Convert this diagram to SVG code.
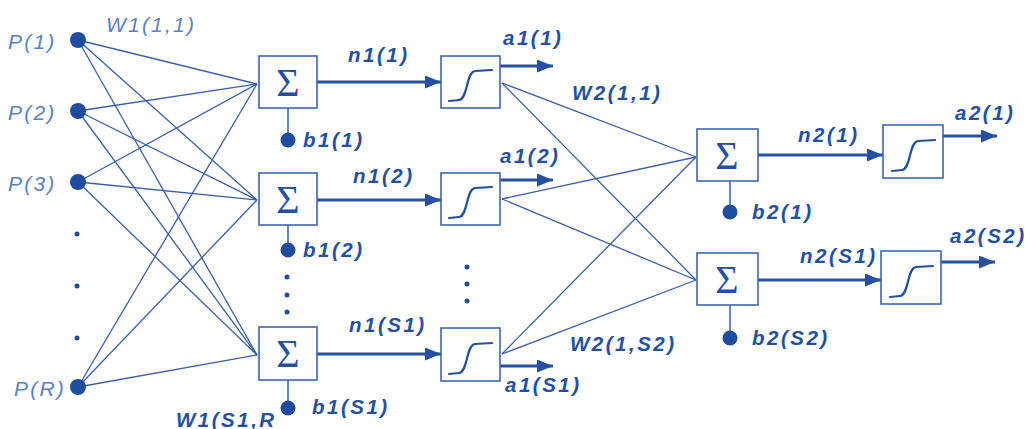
<svg xmlns="http://www.w3.org/2000/svg" width="1027" height="429" viewBox="0 0 1027 429">
<style>
.w{stroke:#3b5ea9;stroke-width:1.3;fill:none}
.ar{stroke:#24509f;stroke-width:3;fill:none}
.box{fill:#fff;stroke:#3e64b0;stroke-width:1.6}
.sig{fill:none;stroke:#24509f;stroke-width:2.2;stroke-linecap:round}
.sum{font-family:"Liberation Serif",serif;font-size:40px;fill:#24509f;text-anchor:middle}
.lb{font-family:"Liberation Sans",Arial,sans-serif;font-size:20.5px;font-weight:bold;font-style:italic;fill:#24509f;letter-spacing:2.5px}
.li{font-family:"Liberation Sans",Arial,sans-serif;font-size:21px;font-style:italic;fill:#5d80c4;letter-spacing:2.2px}
.dot{fill:#1f4c9e}
.bl{stroke:#3e64b0;stroke-width:1.6}
</style>
<defs>
<marker id="ah" markerUnits="userSpaceOnUse" markerWidth="17" markerHeight="13" refX="16" refY="6.5" orient="auto">
<path d="M0,0 L16,6.5 L0,13 Z" fill="#24509f"/>
</marker>
<path id="sc" d="M8,45 L18,44 C27,43 25,16 34,15 L51,14"/>
</defs>
<rect width="1027" height="429" fill="#fff"/>
<g id="connectors">
<line class="w" x1="78" y1="40" x2="257" y2="84"/>
<line class="w" x1="78" y1="40" x2="257" y2="200"/>
<line class="w" x1="78" y1="40" x2="257" y2="355"/>
<line class="w" x1="78" y1="111" x2="257" y2="84"/>
<line class="w" x1="78" y1="111" x2="257" y2="200"/>
<line class="w" x1="78" y1="111" x2="257" y2="355"/>
<line class="w" x1="78" y1="182" x2="257" y2="84"/>
<line class="w" x1="78" y1="182" x2="257" y2="200"/>
<line class="w" x1="78" y1="182" x2="257" y2="355"/>
<line class="w" x1="78" y1="387" x2="257" y2="84"/>
<line class="w" x1="78" y1="387" x2="257" y2="200"/>
<line class="w" x1="78" y1="387" x2="257" y2="355"/>
<line class="w" x1="502" y1="83" x2="696" y2="157"/>
<line class="w" x1="502" y1="83" x2="696" y2="280"/>
<line class="w" x1="502" y1="199" x2="696" y2="157"/>
<line class="w" x1="502" y1="199" x2="696" y2="280"/>
<line class="w" x1="502" y1="354" x2="696" y2="157"/>
<line class="w" x1="502" y1="354" x2="696" y2="280"/>
<line class="ar" x1="317" y1="82" x2="441" y2="82" marker-end="url(#ah)"/>
<line class="ar" x1="317" y1="200" x2="441" y2="200" marker-end="url(#ah)"/>
<line class="ar" x1="317" y1="354" x2="441" y2="354" marker-end="url(#ah)"/>
<line class="ar" x1="500" y1="66" x2="553" y2="66" marker-end="url(#ah)"/>
<line class="ar" x1="500" y1="180" x2="553" y2="180" marker-end="url(#ah)"/>
<line class="ar" x1="500" y1="366" x2="553" y2="366" marker-end="url(#ah)"/>
<line class="ar" x1="758" y1="155" x2="883" y2="155" marker-end="url(#ah)"/>
<line class="ar" x1="758" y1="280" x2="881" y2="280" marker-end="url(#ah)"/>
<line class="ar" x1="943" y1="136" x2="997" y2="136" marker-end="url(#ah)"/>
<line class="ar" x1="941" y1="262" x2="995" y2="262" marker-end="url(#ah)"/>
<line class="bl" x1="288" y1="108" x2="288" y2="140"/>
<line class="bl" x1="288" y1="225" x2="288" y2="250"/>
<line class="bl" x1="288" y1="380" x2="288" y2="408"/>
<line class="bl" x1="730" y1="181" x2="730" y2="212"/>
<line class="bl" x1="730" y1="305" x2="730" y2="338"/>
</g>
<g id="inputs">
<circle class="dot" cx="78" cy="40" r="8"/>
<circle class="dot" cx="78" cy="111" r="8"/>
<circle class="dot" cx="78" cy="182" r="8"/>
<circle class="dot" cx="78" cy="387" r="8"/>
<circle class="dot" cx="77" cy="234" r="2.5"/>
<circle class="dot" cx="77" cy="286" r="2.5"/>
<circle class="dot" cx="77" cy="338" r="2.5"/>
<text class="li" x="8" y="49">P(1)</text>
<text class="li" x="8" y="120">P(2)</text>
<text class="li" x="8" y="191">P(3)</text>
<text class="li" x="14" y="396">P(R)</text>
<text class="li" x="106" y="32">W1(1,1)</text>
</g>
<g id="sum1_1">
<rect class="box" x="259" y="56" width="58" height="52"/>
<text class="sum" x="288" y="96">Σ</text>
<circle class="dot" cx="288" cy="140" r="7.5"/>
<text class="lb" x="303" y="147">b1(1)</text>
</g>
<g id="sum1_2">
<rect class="box" x="259" y="173" width="58" height="52"/>
<text class="sum" x="288" y="213">Σ</text>
<circle class="dot" cx="288" cy="250" r="7.5"/>
<text class="lb" x="303" y="257">b1(2)</text>
</g>
<g id="sum1_dots">
<circle class="dot" cx="287" cy="277" r="2.5"/>
<circle class="dot" cx="287" cy="295" r="2.5"/>
<circle class="dot" cx="287" cy="312" r="2.5"/>
</g>
<g id="sum1_3">
<rect class="box" x="259" y="327" width="58" height="53"/>
<text class="sum" x="288" y="367">Σ</text>
<circle class="dot" cx="288" cy="408" r="7.5"/>
<text class="lb" x="312" y="414">b1(S1)</text>
<text class="lb" x="176" y="427">W1(S1,R</text>
</g>
<g id="sig1_1">
<rect class="box" x="441" y="56" width="59" height="52"/>
<use href="#sc" class="sig" transform="translate(441,56)"/>
<text class="lb" x="348" y="62">n1(1)</text>
<text class="lb" x="503" y="45">a1(1)</text>
</g>
<g id="sig1_2">
<rect class="box" x="441" y="173" width="59" height="52"/>
<use href="#sc" class="sig" transform="translate(441,173)"/>
<text class="lb" x="353" y="183">n1(2)</text>
<text class="lb" x="500" y="163">a1(2)</text>
</g>
<g id="sig1_dots">
<circle class="dot" cx="467" cy="267" r="2.5"/>
<circle class="dot" cx="467" cy="284" r="2.5"/>
<circle class="dot" cx="467" cy="301" r="2.5"/>
</g>
<g id="sig1_3">
<rect class="box" x="441" y="328" width="59" height="53"/>
<use href="#sc" class="sig" transform="translate(441,329)"/>
<text class="lb" x="349" y="332">n1(S1)</text>
<text class="lb" x="505" y="392">a1(S1)</text>
</g>
<g id="w2labels">
<text class="lb" x="572" y="100">W2(1,1)</text>
<text class="lb" x="570" y="351">W2(1,S2)</text>
</g>
<g id="sum2_1">
<rect class="box" x="697" y="129" width="61" height="52"/>
<text class="sum" x="727" y="169">Σ</text>
<circle class="dot" cx="730" cy="212" r="7.5"/>
<text class="lb" x="752" y="219">b2(1)</text>
</g>
<g id="sum2_2">
<rect class="box" x="697" y="253" width="61" height="52"/>
<text class="sum" x="727" y="293">Σ</text>
<circle class="dot" cx="730" cy="338" r="7.5"/>
<text class="lb" x="752" y="345">b2(S2)</text>
</g>
<g id="sig2_1">
<rect class="box" x="883" y="125" width="60" height="53"/>
<use href="#sc" class="sig" transform="translate(884,126)"/>
<text class="lb" x="798" y="142">n2(1)</text>
<text class="lb" x="955" y="120">a2(1)</text>
</g>
<g id="sig2_2">
<rect class="box" x="881" y="251" width="60" height="53"/>
<use href="#sc" class="sig" transform="translate(882,252)"/>
<text class="lb" x="800" y="263">n2(S1)</text>
<text class="lb" x="950" y="243">a2(S2)</text>
</g>
</svg>
